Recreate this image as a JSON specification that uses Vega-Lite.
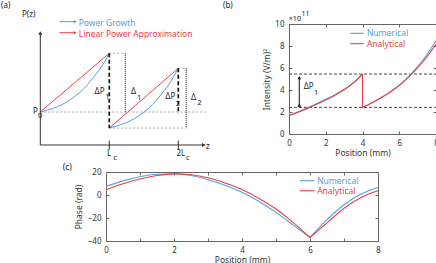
{
  "$schema": "https://vega.github.io/schema/vega-lite/v6.json",
  "padding": {"left": 0, "top": 1, "right": 0, "bottom": 0},
  "background": "white",
  "config": {
    "font": "Noto Sans",
    "view": {"stroke": null},
    "axis": {"labelFontSize": 8, "titleFontSize": 8.5, "titleFontWeight": "normal", "labelColor": "#333", "titleColor": "#333", "domainColor": "#666", "tickColor": "#666", "grid": false, "labelFlush": false, "labelOverlap": false}
  },
  "datasets": {
    "aCurves": [
      {"series": "growth", "seg": 1, "z": 0, "P": 3.3},
      {"series": "growth", "seg": 1, "z": 0.125, "P": 3.53},
      {"series": "growth", "seg": 1, "z": 0.25, "P": 3.83},
      {"series": "growth", "seg": 1, "z": 0.375, "P": 4.27},
      {"series": "growth", "seg": 1, "z": 0.5, "P": 4.86},
      {"series": "growth", "seg": 1, "z": 0.625, "P": 5.59},
      {"series": "growth", "seg": 1, "z": 0.75, "P": 6.59},
      {"series": "growth", "seg": 1, "z": 0.875, "P": 7.7},
      {"series": "growth", "seg": 1, "z": 1, "P": 9.17},
      {"series": "growth", "seg": 2, "z": 1, "P": 1.7},
      {"series": "growth", "seg": 2, "z": 1.125, "P": 1.94},
      {"series": "growth", "seg": 2, "z": 1.25, "P": 2.24},
      {"series": "growth", "seg": 2, "z": 1.375, "P": 2.69},
      {"series": "growth", "seg": 2, "z": 1.5, "P": 3.28},
      {"series": "growth", "seg": 2, "z": 1.625, "P": 4.03},
      {"series": "growth", "seg": 2, "z": 1.75, "P": 5.04},
      {"series": "growth", "seg": 2, "z": 1.875, "P": 6.18},
      {"series": "growth", "seg": 2, "z": 2, "P": 7.67},
      {"series": "linear", "seg": 3, "z": 0, "P": 3.3},
      {"series": "linear", "seg": 3, "z": 1, "P": 9.17},
      {"series": "linear", "seg": 4, "z": 1, "P": 1.7},
      {"series": "linear", "seg": 4, "z": 2, "P": 7.67}
    ],
    "bNum": [
      {"seg": 1, "x": 0, "y": 1.7}, {"seg": 1, "x": 0.5, "y": 2.02}, {"seg": 1, "x": 1, "y": 2.38},
      {"seg": 1, "x": 1.5, "y": 2.76}, {"seg": 1, "x": 2, "y": 3.16}, {"seg": 1, "x": 2.5, "y": 3.58},
      {"seg": 1, "x": 3, "y": 4.06}, {"seg": 1, "x": 3.5, "y": 4.67}, {"seg": 1, "x": 4, "y": 5.45},
      {"seg": 2, "x": 4, "y": 2.42}, {"seg": 2, "x": 4.5, "y": 2.83}, {"seg": 2, "x": 5, "y": 3.3},
      {"seg": 2, "x": 5.5, "y": 3.83}, {"seg": 2, "x": 6, "y": 4.45}, {"seg": 2, "x": 6.5, "y": 5.22},
      {"seg": 2, "x": 7, "y": 6.12}, {"seg": 2, "x": 7.5, "y": 7.2}, {"seg": 2, "x": 8, "y": 8.48}
    ],
    "bAna": [
      {"seg": 1, "x": 0, "y": 1.65}, {"seg": 1, "x": 0.5, "y": 1.98}, {"seg": 1, "x": 1, "y": 2.33},
      {"seg": 1, "x": 1.5, "y": 2.7}, {"seg": 1, "x": 2, "y": 3.1}, {"seg": 1, "x": 2.5, "y": 3.53},
      {"seg": 1, "x": 3, "y": 4.02}, {"seg": 1, "x": 3.5, "y": 4.63}, {"seg": 1, "x": 4, "y": 5.45},
      {"seg": 2, "x": 4, "y": 2.42}, {"seg": 2, "x": 4.5, "y": 2.82}, {"seg": 2, "x": 5, "y": 3.28},
      {"seg": 2, "x": 5.5, "y": 3.8}, {"seg": 2, "x": 6, "y": 4.4}, {"seg": 2, "x": 6.5, "y": 5.15},
      {"seg": 2, "x": 7, "y": 6.0}, {"seg": 2, "x": 7.5, "y": 7.0}, {"seg": 2, "x": 8, "y": 8.15}
    ],
    "cNum": [
      {"seg": 1, "x": 0, "y": 7.5}, {"seg": 1, "x": 0.5, "y": 12.3}, {"seg": 1, "x": 1, "y": 15.9},
      {"seg": 1, "x": 1.5, "y": 18.0}, {"seg": 1, "x": 2, "y": 18.5}, {"seg": 1, "x": 2.5, "y": 16.9},
      {"seg": 1, "x": 3, "y": 13.3}, {"seg": 1, "x": 3.5, "y": 8.4}, {"seg": 1, "x": 4, "y": 2.3},
      {"seg": 1, "x": 4.5, "y": -5.6}, {"seg": 1, "x": 5, "y": -15.1}, {"seg": 1, "x": 5.5, "y": -26.0},
      {"seg": 1, "x": 6, "y": -37.0},
      {"seg": 2, "x": 6, "y": -37.0}, {"seg": 2, "x": 6.5, "y": -21.5}, {"seg": 2, "x": 7, "y": -8.5},
      {"seg": 2, "x": 7.5, "y": 0.8}, {"seg": 2, "x": 8, "y": 6.6}
    ],
    "cAna": [
      {"seg": 1, "x": 0, "y": 4.6}, {"seg": 1, "x": 0.5, "y": 9.7}, {"seg": 1, "x": 1, "y": 13.9},
      {"seg": 1, "x": 1.5, "y": 16.9}, {"seg": 1, "x": 2, "y": 18.4}, {"seg": 1, "x": 2.5, "y": 17.6},
      {"seg": 1, "x": 3, "y": 15.0}, {"seg": 1, "x": 3.5, "y": 10.5}, {"seg": 1, "x": 4, "y": 4.8},
      {"seg": 1, "x": 4.5, "y": -3.0}, {"seg": 1, "x": 5, "y": -12.2}, {"seg": 1, "x": 5.5, "y": -23.8},
      {"seg": 1, "x": 6, "y": -37.0},
      {"seg": 2, "x": 6, "y": -37.0}, {"seg": 2, "x": 6.5, "y": -24.3}, {"seg": 2, "x": 7, "y": -11.5},
      {"seg": 2, "x": 7.5, "y": -2.1}, {"seg": 2, "x": 8, "y": 3.7}
    ]
  },
  "vconcat": [
    {
      "hconcat": [
        {
          "width": 111,
          "height": 138,
          "view": {"stroke": null},
          "encoding": {
            "x": {"field": "z", "type": "quantitative", "scale": {"domain": [0.9522, 2.5609], "nice": false, "zero": false}, "axis": null},
            "y": {"field": "P", "type": "quantitative", "scale": {"domain": [-1.7, 12.1], "nice": false, "zero": false}, "axis": null}
          },
          "layer": [
            {
              "data": {"values": [
                {"z": 0, "P": 3.3, "z2": 2.4, "P2": 3.3},
                {"z": 1, "P": 9.17, "z2": 1.232, "P2": 9.17},
                {"z": 2, "P": 7.67, "z2": 2.115, "P2": 7.67},
                {"z": 1, "P": 1.7, "z2": 2.115, "P2": 1.7}
              ]},
              "mark": {"type": "rule", "color": "#a0a0a0", "strokeDash": [2, 2], "strokeWidth": 0.9},
              "encoding": {"x2": {"field": "z2"}, "y2": {"field": "P2"}}
            },
            {
              "data": {"values": [
                {"z": 1.232, "P": 9.17, "z2": 1.232, "P2": 3.3},
                {"z": 2.115, "P": 7.67, "z2": 2.115, "P2": 1.7}
              ]},
              "mark": {"type": "rule", "color": "#222", "strokeDash": [1, 1], "strokeWidth": 1.1},
              "encoding": {"x2": {"field": "z2"}, "y2": {"field": "P2"}}
            },
            {
              "data": {"name": "aCurves"},
              "mark": {"type": "line", "strokeWidth": 1, "interpolate": "monotone"},
              "encoding": {
                "detail": {"field": "seg"},
                "color": {"field": "series", "type": "nominal", "scale": {"domain": ["growth", "linear"], "range": ["#5a9fd6", "#e9404a"]}, "legend": null}
              }
            },
            {
              "data": {"values": [
                {"z": 1, "P": 9.17, "z2": 1, "P2": 1.7},
                {"z": 2, "P": 7.67, "z2": 2, "P2": 3.1}
              ]},
              "mark": {"type": "rule", "color": "#111", "strokeDash": [4, 2.5], "strokeWidth": 1.7},
              "encoding": {"x2": {"field": "z2"}, "y2": {"field": "P2"}}
            },
            {
              "data": {"values": [
                {"z": 0, "P": 0, "z2": 0, "P2": 11.1},
                {"z": 0, "P": 0, "z2": 2.36, "P2": 0},
                {"z": 1, "P": 0.45, "z2": 1, "P2": -0.45},
                {"z": 2, "P": 0.45, "z2": 2, "P2": -0.45}
              ]},
              "mark": {"type": "rule", "color": "#333", "strokeWidth": 1},
              "encoding": {"x2": {"field": "z2"}, "y2": {"field": "P2"}}
            },
            {
              "data": {"values": [
                {"z": 0, "P": 11.2, "dir": "up"},
                {"z": 2.37, "P": 0, "dir": "right"}
              ]},
              "mark": {"type": "point", "filled": true, "color": "#333", "size": 18, "opacity": 1},
              "encoding": {"shape": {"field": "dir", "type": "nominal", "scale": {"domain": ["up", "right"], "range": ["triangle-up", "triangle-right"]}, "legend": null}}
            },
            {
              "data": {"values": [
                {"series": "growth", "z": 0.276, "z2": 0.5, "P": 12.33},
                {"series": "linear", "z": 0.276, "z2": 0.5, "P": 11.23}
              ]},
              "mark": {"type": "rule", "strokeWidth": 1},
              "encoding": {
                "x2": {"field": "z2"},
                "color": {"field": "series", "type": "nominal", "scale": {"domain": ["growth", "linear"], "range": ["#5a9fd6", "#e9404a"]}, "legend": null}
              }
            },
            {
              "data": {"values": [
                {"series": "growth", "z": 0.505, "P": 12.33},
                {"series": "linear", "z": 0.505, "P": 11.23}
              ]},
              "mark": {"type": "point", "filled": true, "shape": "triangle-right", "size": 12, "opacity": 1},
              "encoding": {
                "color": {"field": "series", "type": "nominal", "scale": {"domain": ["growth", "linear"], "range": ["#5a9fd6", "#e9404a"]}, "legend": null}
              }
            },
            {
              "data": {"values": [
                {"series": "growth", "z": 0.557, "P": 12.17, "label": "Power Growth"},
                {"series": "linear", "z": 0.557, "P": 11.07, "label": "Linear  Power Approximation"}
              ]},
              "mark": {"type": "text", "align": "left", "baseline": "middle", "fontSize": 8.5},
              "encoding": {
                "text": {"field": "label"},
                "color": {"field": "series", "type": "nominal", "scale": {"domain": ["growth", "linear"], "range": ["#5a9fd6", "#e9404a"]}, "legend": null}
              }
            },
            {
              "data": {"values": [
                {"kind": "main", "z": -0.5696, "P": 13.875, "label": "(a)"},
                {"kind": "main", "z": -0.265, "P": 13.0, "label": "P(z)"},
                {"kind": "main", "z": -0.106, "P": 3.3, "label": "P"},
                {"kind": "sub", "z": -0.033, "P": 2.9, "label": "0"},
                {"kind": "main", "z": 0.786, "P": 5.3, "label": "ΔP"},
                {"kind": "sub", "z": 0.94, "P": 4.8, "label": "1"},
                {"kind": "main", "z": 1.314, "P": 5.3, "label": "Δ"},
                {"kind": "sub", "z": 1.4, "P": 4.7, "label": "1"},
                {"kind": "main", "z": 1.812, "P": 4.85, "label": "ΔP"},
                {"kind": "sub", "z": 1.962, "P": 4.1, "label": "2"},
                {"kind": "main", "z": 2.184, "P": 4.7, "label": "Δ"},
                {"kind": "sub", "z": 2.275, "P": 4.2, "label": "2"},
                {"kind": "main", "z": 2.401, "P": -0.2, "label": "z"},
                {"kind": "main", "z": 0.967, "P": -0.9, "label": "L"},
                {"kind": "sub", "z": 1.058, "P": -1.3, "label": "c"},
                {"kind": "main", "z": 1.974, "P": -0.9, "label": "2L"},
                {"kind": "sub", "z": 2.112, "P": -1.3, "label": "c"}
              ]},
              "mark": {"type": "text", "align": "left", "baseline": "middle", "color": "#222"},
              "encoding": {
                "text": {"field": "label"},
                "size": {"field": "kind", "type": "nominal", "scale": {"domain": ["main", "sub"], "range": [8, 7]}, "legend": null}
              }
            }
          ]
        },
        {
          "width": 147,
          "height": 110,
          "view": {"stroke": "#666"},
          "encoding": {
            "x": {"field": "x", "type": "quantitative", "scale": {"domain": [0, 8], "nice": false, "zero": false}, "axis": null},
            "y": {"field": "y", "type": "quantitative", "scale": {"domain": [0, 10], "nice": false, "zero": false}, "axis": null}
          },
          "resolve": {"axis": {"x": "independent", "y": "independent"}},
          "layer": [
            {
              "data": {"values": [{"x": 0, "x2": 8, "y": 5.45}, {"x": 0, "x2": 8, "y": 2.42}]},
              "mark": {"type": "rule", "color": "#333", "strokeDash": [3, 2], "strokeWidth": 0.9},
              "encoding": {"x2": {"field": "x2"}}
            },
            {
              "data": {"name": "bNum"},
              "mark": {"type": "line", "color": "#5a9fd6", "strokeWidth": 1.1, "interpolate": "monotone"},
              "encoding": {
                "detail": {"field": "seg"},
                "x": {"field": "x", "type": "quantitative", "scale": {"domain": [0, 8], "nice": false, "zero": false},
                      "axis": {"orient": "bottom", "values": [0, 2, 4, 6, 8], "title": "Position (mm)", "tickSize": -3, "labelPadding": 8, "titlePadding": 1}},
                "y": {"field": "y", "type": "quantitative", "scale": {"domain": [0, 10], "nice": false, "zero": false},
                      "axis": {"orient": "left", "values": [0, 2, 4, 6, 8, 10], "title": "Intensity (V/m)²", "tickSize": -3, "labelPadding": 8, "titlePadding": 3}}
              }
            },
            {
              "data": {"name": "bAna"},
              "mark": {"type": "line", "color": "#e9404a", "strokeWidth": 1.1, "interpolate": "monotone"},
              "encoding": {"detail": {"field": "seg"}}
            },
            {
              "data": {"values": [{"x": 4, "y": 5.45, "y2": 2.42}]},
              "mark": {"type": "rule", "color": "#e9404a", "strokeWidth": 1.1},
              "encoding": {"y2": {"field": "y2"}}
            },
            {
              "data": {"values": [{"x": 0.56, "y": 2.66, "y2": 5.1}]},
              "mark": {"type": "rule", "color": "#111", "strokeWidth": 1},
              "encoding": {"y2": {"field": "y2"}}
            },
            {
              "data": {"values": [{"x": 0.56, "y": 5.12, "dir": "up"}, {"x": 0.56, "y": 2.62, "dir": "down"}]},
              "mark": {"type": "point", "filled": true, "color": "#111", "size": 14, "opacity": 1},
              "encoding": {"shape": {"field": "dir", "type": "nominal", "scale": {"domain": ["up", "down"], "range": ["triangle-up", "triangle-down"]}, "legend": null}}
            },
            {
              "data": {"values": [
                {"x": 3.34, "x2": 4.07, "y": 9.15, "s": "Numerical"},
                {"x": 3.34, "x2": 4.07, "y": 8.21, "s": "Analytical"}
              ]},
              "mark": {"type": "rule", "strokeWidth": 1.1},
              "encoding": {
                "x": {"field": "x", "type": "quantitative", "scale": {"domain": [0, 8], "nice": false, "zero": false},
                      "axis": {"orient": "top", "values": [0, 2, 4, 6, 8], "labels": false, "title": null, "tickSize": -3}},
                "y": {"field": "y", "type": "quantitative", "scale": {"domain": [0, 10], "nice": false, "zero": false},
                      "axis": {"orient": "right", "values": [0, 2, 4, 6, 8, 10], "labels": false, "title": null, "tickSize": -3}},
                "x2": {"field": "x2"},
                "color": {"field": "s", "type": "nominal", "scale": {"domain": ["Numerical", "Analytical"], "range": ["#5a9fd6", "#e9404a"]}, "legend": null}
              }
            },
            {
              "data": {"values": [
                {"x": 4.24, "y": 9.15, "s": "Numerical"},
                {"x": 4.24, "y": 8.21, "s": "Analytical"}
              ]},
              "mark": {"type": "text", "align": "left", "baseline": "middle", "fontSize": 8.5},
              "encoding": {
                "text": {"field": "s"},
                "color": {"field": "s", "type": "nominal", "scale": {"domain": ["Numerical", "Analytical"], "range": ["#5a9fd6", "#e9404a"]}, "legend": null}
              }
            },
            {
              "data": {"values": [
                {"kind": "main", "x": -3.592, "y": 11.614, "label": "(b)"},
                {"kind": "main", "x": 0.8, "y": 4.27, "label": "ΔP"},
                {"kind": "sub", "x": 1.36, "y": 3.75, "label": "1"},
                {"kind": "mid", "x": -0.02, "y": 10.43, "label": "×10"},
                {"kind": "tiny", "x": 0.68, "y": 10.88, "label": "11"}
              ]},
              "mark": {"type": "text", "align": "left", "baseline": "middle", "color": "#222"},
              "encoding": {
                "text": {"field": "label"},
                "size": {"field": "kind", "type": "nominal", "scale": {"domain": ["main", "sub", "mid", "tiny"], "range": [8, 7, 7.5, 6.5]}, "legend": null}
              }
            }
          ]
        }
      ],
      "spacing": 5
    },
    {
      "width": 272,
      "height": 69,
      "view": {"stroke": "#666"},
      "encoding": {
        "x": {"field": "x", "type": "quantitative", "scale": {"domain": [0, 8], "nice": false, "zero": false}, "axis": null},
        "y": {"field": "y", "type": "quantitative", "scale": {"domain": [-40, 20], "nice": false, "zero": false}, "axis": null}
      },
      "resolve": {"axis": {"x": "independent", "y": "independent"}},
      "layer": [
        {
          "data": {"name": "cNum"},
          "mark": {"type": "line", "color": "#5a9fd6", "strokeWidth": 1.1, "interpolate": "monotone"},
          "encoding": {
            "detail": {"field": "seg"},
            "x": {"field": "x", "type": "quantitative", "scale": {"domain": [0, 8], "nice": false, "zero": false},
                  "axis": {"orient": "bottom", "values": [0, 1, 2, 3, 4, 5, 6, 7, 8], "labelExpr": "datum.value % 2 === 0 ? datum.label : ''", "title": "Position (mm)", "tickSize": -3, "labelPadding": 8, "titlePadding": 1}},
            "y": {"field": "y", "type": "quantitative", "scale": {"domain": [-40, 20], "nice": false, "zero": false},
                  "axis": {"orient": "left", "values": [-40, -20, 0, 20], "title": "Phase (rad)", "tickSize": -3, "labelPadding": 8, "titlePadding": 4}}
          }
        },
        {
          "data": {"name": "cAna"},
          "mark": {"type": "line", "color": "#e9404a", "strokeWidth": 1.1, "interpolate": "monotone"},
          "encoding": {"detail": {"field": "seg"}}
        },
        {
          "data": {"values": [
            {"x": 5.7, "x2": 6.13, "y": 12.4, "s": "Numerical"},
            {"x": 5.7, "x2": 6.13, "y": 3.7, "s": "Analytical"}
          ]},
          "mark": {"type": "rule", "strokeWidth": 1.1},
          "encoding": {
            "x": {"field": "x", "type": "quantitative", "scale": {"domain": [0, 8], "nice": false, "zero": false},
                  "axis": {"orient": "top", "values": [0, 1, 2, 3, 4, 5, 6, 7, 8], "labels": false, "title": null, "tickSize": -3}},
            "y": {"field": "y", "type": "quantitative", "scale": {"domain": [-40, 20], "nice": false, "zero": false},
                  "axis": {"orient": "right", "values": [-40, -20, 0, 20], "labels": false, "title": null, "tickSize": -3}},
            "x2": {"field": "x2"},
            "color": {"field": "s", "type": "nominal", "scale": {"domain": ["Numerical", "Analytical"], "range": ["#5a9fd6", "#e9404a"]}, "legend": null}
          }
        },
        {
          "data": {"values": [
            {"x": 6.21, "y": 12.4, "s": "Numerical"},
            {"x": 6.21, "y": 3.7, "s": "Analytical"}
          ]},
          "mark": {"type": "text", "align": "left", "baseline": "middle", "fontSize": 8.5},
          "encoding": {
            "text": {"field": "s"},
            "color": {"field": "s", "type": "nominal", "scale": {"domain": ["Numerical", "Analytical"], "range": ["#5a9fd6", "#e9404a"]}, "legend": null}
          }
        },
        {
          "data": {"values": [{"x": -1.274, "y": 24.6, "label": "(c)"}]},
          "mark": {"type": "text", "align": "left", "baseline": "middle", "color": "#222", "fontSize": 8.5},
          "encoding": {"text": {"field": "label"}}
        }
      ]
    }
  ],
  "spacing": 0
}
